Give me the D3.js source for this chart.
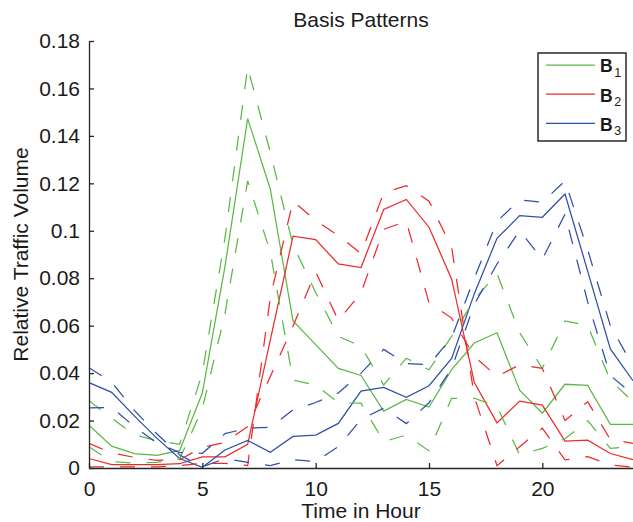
<!DOCTYPE html>
<html><head><meta charset="utf-8">
<script src="https://cdn.jsdelivr.net/npm/d3@7"></script>
<style>
html,body{margin:0;padding:0;background:#fff;}
svg{display:block;font-family:"Liberation Sans",Arial,Helvetica,sans-serif;}
</style>
</head><body>
<svg id="chart" width="633" height="522"></svg>
<script>
// ---- data ----
const hours = [0,1,2,3,4,5,6,7,8,9,10,11,12,13,14,15,16,17,18,19,20,21,22,23,24];

const b1Mean  = [0.0180,0.0092,0.0061,0.0053,0.0074,0.0316,0.0850,0.1473,0.1175,0.0620,0.0520,0.0420,0.0390,0.0240,0.0289,0.0257,0.0415,0.0527,0.0570,0.0328,0.0231,0.0353,0.0348,0.0184,0.0184];
const b1DashA = [0.0284,0.0210,0.0140,0.0115,0.0100,0.0400,0.0970,0.1690,0.1330,0.0940,0.0740,0.0555,0.0513,0.0350,0.0463,0.0414,0.0555,0.0710,0.0820,0.0570,0.0420,0.0620,0.0600,0.0370,0.0280];
const b1DashB = [0.0090,0.0027,0.0020,0.0024,0.0038,0.0250,0.0650,0.1210,0.0910,0.0370,0.0350,0.0275,0.0273,0.0111,0.0139,0.0072,0.0294,0.0294,0.0260,0.0055,0.0083,0.0123,0.0200,0.0083,0.0090];

const b2Mean  = [0.0040,0.0014,0.0014,0.0014,0.0018,0.0047,0.0047,0.0100,0.0540,0.0977,0.0963,0.0860,0.0845,0.1090,0.1132,0.1015,0.0796,0.0360,0.0190,0.0282,0.0265,0.0113,0.0117,0.0061,0.0035];
const b2DashA = [0.0005,0.0005,0.0005,0.0005,0.0010,0.0020,0.0020,0.0010,0.0720,0.1125,0.1043,0.0980,0.0904,0.1160,0.1190,0.1125,0.0930,0.0300,0.0010,0.0090,0.0168,0.0034,0.0048,0.0013,0.0003];
const b2DashB = [0.0104,0.0063,0.0045,0.0032,0.0035,0.0087,0.0108,0.0175,0.0386,0.0598,0.0827,0.0622,0.0738,0.1006,0.1040,0.0696,0.0632,0.0470,0.0386,0.0435,0.0420,0.0200,0.0280,0.0120,0.0104];

const b3Mean  = [0.0360,0.0319,0.0220,0.0125,0.0040,0.0003,0.0076,0.0116,0.0066,0.0133,0.0139,0.0188,0.0324,0.0340,0.0298,0.0347,0.0462,0.0735,0.0968,0.1064,0.1057,0.1155,0.0830,0.0502,0.0368];
const b3DashA = [0.0423,0.0362,0.0243,0.0143,0.0055,0.0005,0.0040,0.0024,0.0010,0.0035,0.0027,0.0090,0.0205,0.0252,0.0187,0.0275,0.0420,0.0690,0.0860,0.1000,0.0880,0.1070,0.0700,0.0390,0.0310];
const b3DashB = [0.0253,0.0256,0.0175,0.0105,0.0065,0.0062,0.0145,0.0168,0.0172,0.0245,0.0276,0.0316,0.0400,0.0500,0.0440,0.0435,0.0550,0.0800,0.1040,0.1130,0.1120,0.1210,0.0920,0.0600,0.0430];

const seriesNames = ["B1","B2","B3"];
const xTicks = [0,5,10,15,20];
const xTickLabels = ["0","5","10","15","20"];
const yTicks = [0,0.02,0.04,0.06,0.08,0.1,0.12,0.14,0.16,0.18];
const yTickLabels = ["0","0.02","0.04","0.06","0.08","0.1","0.12","0.14","0.16","0.18"];

const titleText = "Basis Patterns";
const xLabelText = "Time in Hour";
const yLabelText = "Relative Traffic Volume";

// ---- layout / style ----
const plotLeft = 89, plotRight = 633, plotTop = 41, plotBottom = 468;
const colors = ["#5cb846", "#ee2a2a", "#2f4fa6"];
const axisColor = "#262626";
const fontSize = 21;

const svg = d3.select("#chart");
const x = d3.scaleLinear().domain([0,24]).range([plotLeft,plotRight]);
const y = d3.scaleLinear().domain([0,0.18]).range([plotBottom,plotTop]);

const line = d3.line().x((d,i)=>x(hours[i])).y(d=>y(d));

const groups = [
  {name:seriesNames[0], mean:b1Mean, a:b1DashA, b:b1DashB, color:colors[0]},
  {name:seriesNames[1], mean:b2Mean, a:b2DashA, b:b2DashB, color:colors[1]},
  {name:seriesNames[2], mean:b3Mean, a:b3DashA, b:b3DashB, color:colors[2]}
];

const plot = svg.append("g");
groups.forEach(g=>{
  plot.append("path").attr("d", line(g.mean)).attr("fill","none")
    .attr("stroke", g.color).attr("stroke-width",1.25);
});
groups.forEach(g=>{
  [g.a, g.b].forEach(arr=>{
    plot.append("path").attr("d", line(arr)).attr("fill","none")
      .attr("stroke", g.color).attr("stroke-width",1.25)
      .attr("stroke-dasharray","15,16");
  });
});

// axes
const yAxis = d3.axisLeft(y).tickValues(yTicks).tickFormat((d,i)=>yTickLabels[i])
  .tickSizeInner(-5).tickSizeOuter(0).tickPadding(9);
const xAxis = d3.axisBottom(x).tickValues(xTicks).tickFormat((d,i)=>xTickLabels[i])
  .tickSizeInner(-5).tickSizeOuter(0).tickPadding(13);

const gy = svg.append("g").attr("transform",`translate(${plotLeft},0)`).call(yAxis);
const gx = svg.append("g").attr("transform",`translate(0,${plotBottom})`).call(xAxis);
[gx, gy].forEach(g=>{
  g.selectAll("path,line").attr("stroke",axisColor).attr("stroke-width",1.3);
  g.selectAll("text").attr("fill","#1a1a1a").attr("font-size",fontSize)
    .attr("font-family",'"Liberation Sans",Arial,sans-serif');
});

// title and labels
svg.append("text").attr("x",(plotLeft+plotRight)/2).attr("y",27).attr("text-anchor","middle")
  .attr("font-size",fontSize).attr("fill","#1a1a1a").text(titleText);
svg.append("text").attr("x",(plotLeft+plotRight)/2).attr("y",518).attr("text-anchor","middle")
  .attr("font-size",fontSize).attr("fill","#1a1a1a").text(xLabelText);
svg.append("text").attr("transform",`translate(28,${(plotTop+plotBottom)/2}) rotate(-90)`)
  .attr("text-anchor","middle").attr("font-size",fontSize).attr("fill","#1a1a1a").text(yLabelText);

// legend
const lg = svg.append("g");
lg.append("rect").attr("x",538).attr("y",53).attr("width",88).attr("height",88)
  .attr("fill","#fff").attr("stroke","#1a1a1a").attr("stroke-width",1.4);
groups.forEach((g,i)=>{
  const cy = 65 + i*29.2;
  lg.append("line").attr("x1",546).attr("x2",595).attr("y1",cy).attr("y2",cy)
    .attr("stroke",g.color).attr("stroke-width",1.25);
  const t = lg.append("text").attr("x",600).attr("y",cy+7.3).attr("fill","#1a1a1a");
  t.append("tspan").attr("font-weight","bold").attr("font-size",17.5).text(g.name.charAt(0));
  t.append("tspan").attr("font-size",12.5).attr("dx",1.5).attr("dy",4.7).text(g.name.slice(1));
});
</script>
</body></html>
